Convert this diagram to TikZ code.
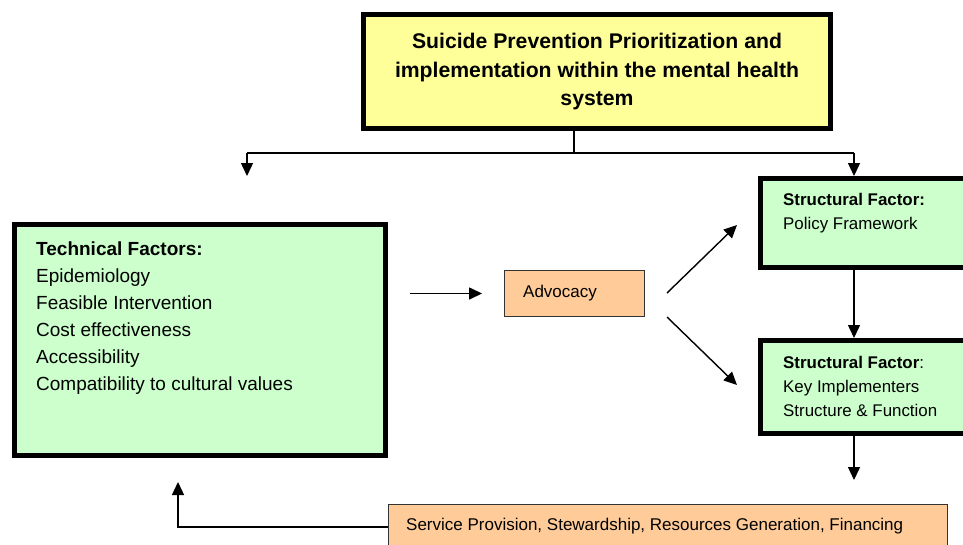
\documentclass[tikz,border=0pt]{standalone}
\usepackage{fontspec}
\setmainfont{Liberation Sans}
\usetikzlibrary{arrows.meta,calc}
\definecolor{ylw}{HTML}{FFFF99}
\definecolor{grn}{HTML}{CCFFCC}
\definecolor{org}{HTML}{FFCC99}
\begin{document}
\begin{tikzpicture}[x=1pt,y=-1pt,
  thickbox/.style={draw=black,line width=5pt,rectangle,inner sep=0pt},
  thinbox/.style={draw=black!80,line width=0.9pt,rectangle,inner sep=0pt,fill=org},
  conn/.style={line width=1.4pt,-{Triangle[length=13pt,width=12pt]}},
  plain/.style={line width=1.4pt},
  txt/.style={inner sep=0pt,align=left,anchor=north west}]
\useasboundingbox (0,0) rectangle (963,544);
\clip (0,0) rectangle (963,544);
% boxes
\node[thickbox,fill=ylw,minimum width=467pt,minimum height=114pt] (top) at (597,71.5) {};
\node[align=center,font=\fontsize{21.2}{28.5}\selectfont\bfseries] (toptxt) at (597,72)
  {Suicide Prevention Prioritization and\\implementation within the mental health\\system};
\node[thickbox,fill=grn,minimum width=371pt,minimum height=231pt] (tech) at (200,340) {};
\node[txt,font=\fontsize{19}{27}\selectfont] (techtxt) at (36,242)
  {\textbf{Technical Factors:}\\Epidemiology\\Feasible Intervention\\Cost effectiveness\\Accessibility\\Compatibility to cultural values};
\node[thickbox,fill=grn,minimum width=227pt,minimum height=89pt] (s1) at (874,223) {};
\node[txt,font=\fontsize{16.9}{24}\selectfont] (s1txt) at (783,193)
  {\textbf{Structural Factor:}\\Policy Framework};
\node[thickbox,fill=grn,minimum width=227pt,minimum height=93pt] (s2) at (874,387) {};
\node[txt,font=\fontsize{16.9}{24}\selectfont] (s2txt) at (783,356)
  {\textbf{Structural Factor}:\\Key Implementers\\Structure \& Function};
\node[thinbox,minimum width=140pt,minimum height=46pt] (adv) at (574.5,293.5) {};
\node[inner sep=0pt,anchor=west,font=\fontsize{17}{20}\selectfont] (advtxt) at (523,293) {Advocacy};
\node[thinbox,minimum width=559pt,minimum height=55pt] (bot) at (668,531.5) {};
\node[inner sep=0pt,anchor=west,font=\fontsize{17}{20}\selectfont] (bottxt) at (406,526) {Service Provision, Stewardship, Resources Generation, Financing};
% connectors
\coordinate (split) at (574,153);
\coordinate (lft) at (247,153);
\coordinate (rgt) at (854,153);
\coordinate (lftend) at (247,176);
\draw[plain] (top.south -| split) -- (split);
\draw[plain] (lft) -- (rgt);
\draw[conn] (lft) -- (lftend);
\draw[conn] (rgt) -- (rgt |- s1.north);
\draw[conn] ([xshift=-20pt]s1.south) -- ([xshift=-20pt]s2.north);
\coordinate (s2out) at (854,480);
\draw[conn] ([xshift=-20pt]s2.south) -- (s2out);
\draw[conn,shorten <=22pt,shorten >=22pt] (tech.east |- adv.west) -- (adv.west);
\coordinate (d1a) at (667,293);
\coordinate (d1b) at (737,225);
\coordinate (d2a) at (667,317);
\coordinate (d2b) at (737,385);
\draw[conn] (d1a) -- (d1b);
\draw[conn] (d2a) -- (d2b);
\coordinate (fbk) at (178,527);
\coordinate (fbkend) at (178,482);
\draw[conn] (bot.west |- fbk) -- (fbk) -- (fbkend);
\end{tikzpicture}
\end{document}
